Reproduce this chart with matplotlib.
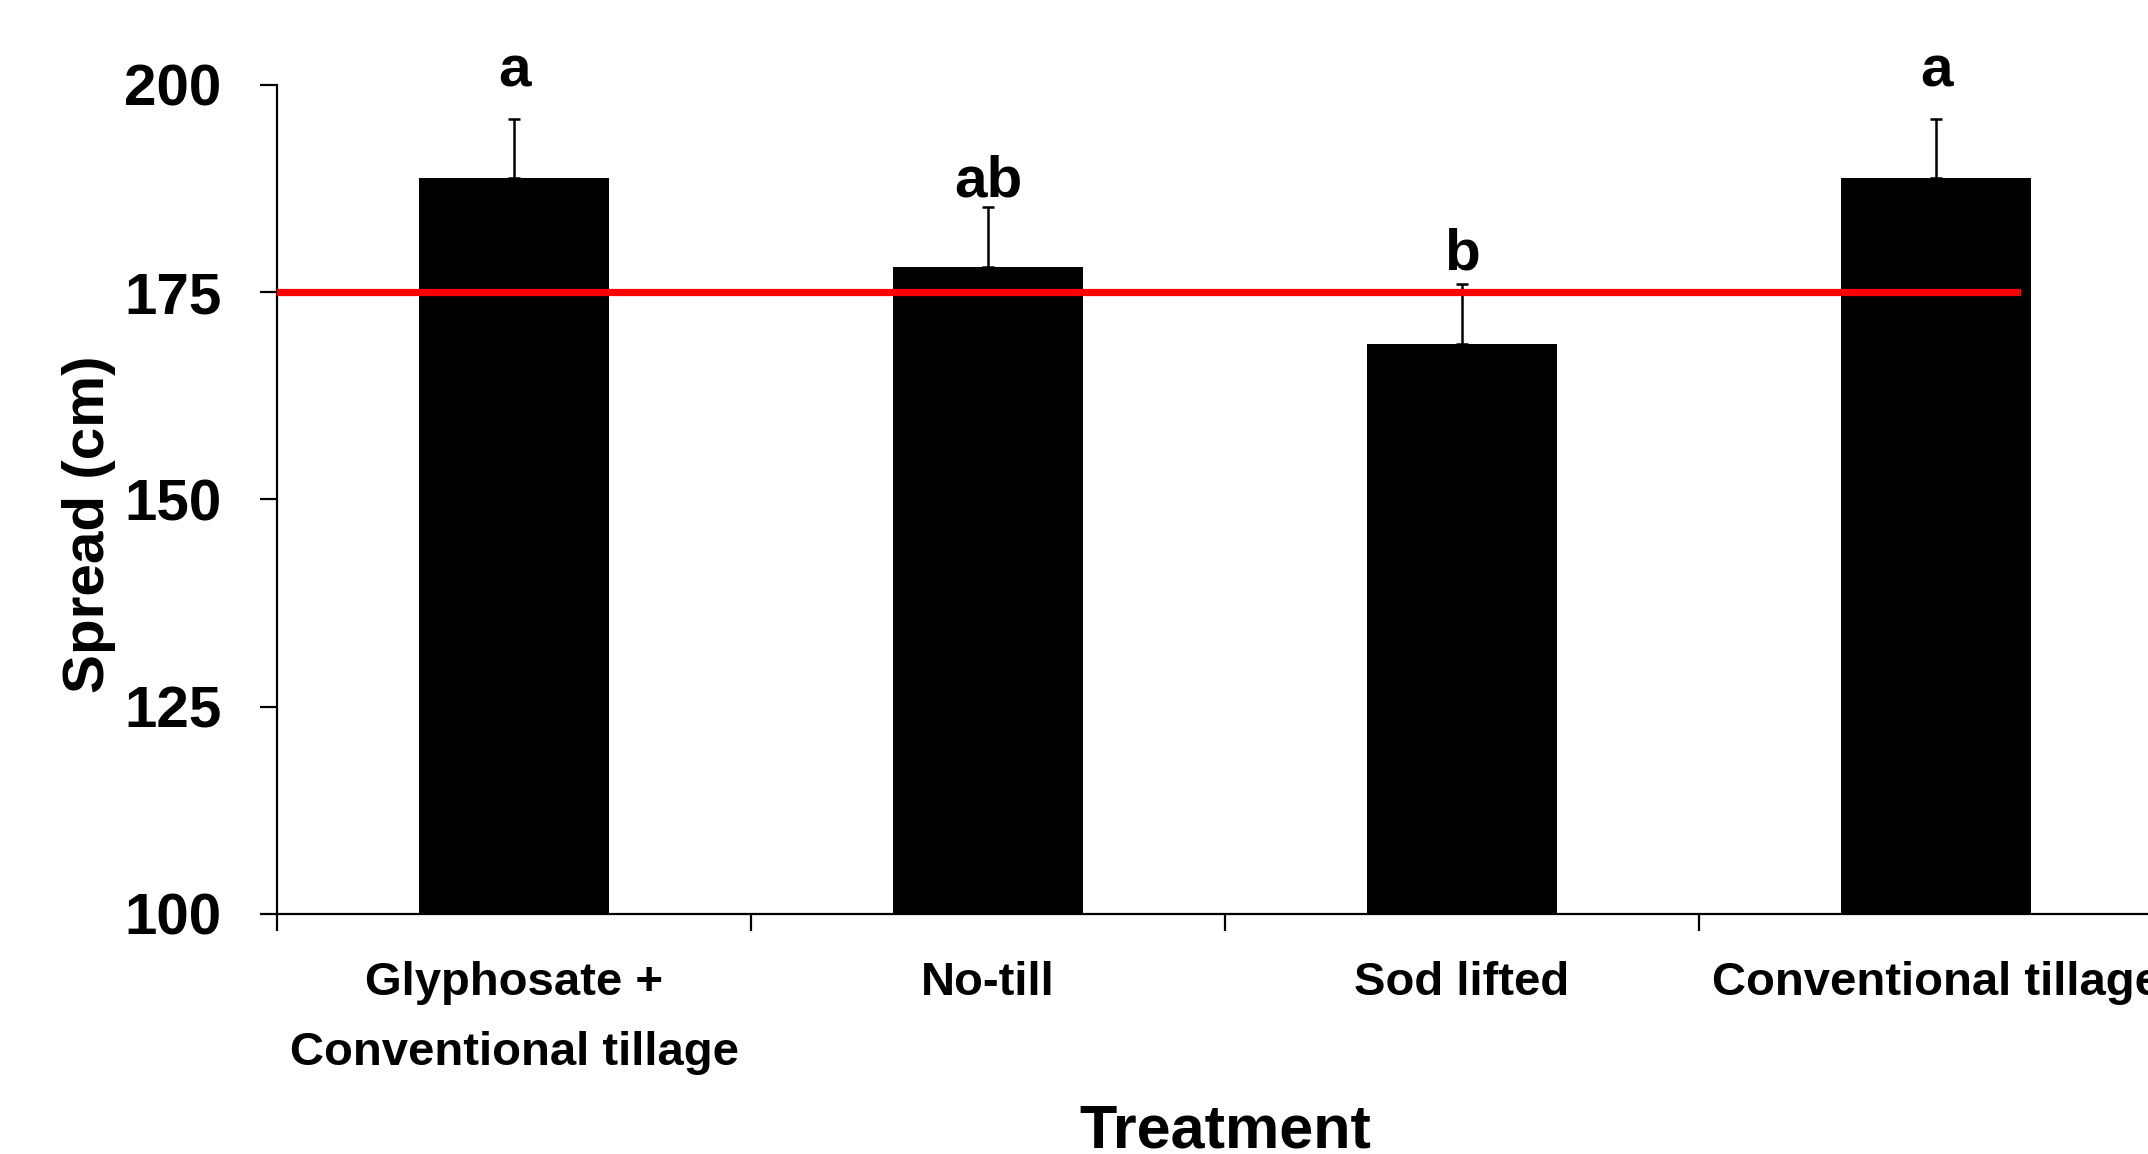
import matplotlib
matplotlib.use("Agg")
import matplotlib.pyplot as plt
import numpy as np

plt.rcParams["font.family"] = ["Liberation Sans", "DejaVu Sans"]
plt.rcParams["font.weight"] = "bold"

# ── Data ────────────────────────────────────────────────────────────────
treatments = ["Glyphosate +\nConventional tillage", "No-till", "Sod lifted", "Conventional tillage"]
spread_cm = [188.8, 178.0, 168.8, 188.8]
spread_se = [7.1, 7.3, 7.2, 7.1]
letters = ["a", "ab", "b", "a"]
letter_y = [199.8, 186.6, 177.7, 199.8]
reference_spread = 175

fig = plt.figure(figsize=(10.74, 5.77), dpi=200)
ax = fig.add_axes([277 / 2148, 1 - 914 / 1154, 1896 / 2148, 829 / 1154])

x = np.arange(len(treatments))
ax.bar(x, spread_cm, width=0.4, color="black", zorder=2)
ax.errorbar(x, spread_cm, yerr=[np.zeros(len(x)), spread_se], fmt="none",
            ecolor="black", elinewidth=0.9, capsize=2.3, capthick=0.9, zorder=3)

# significance letters above the error bars
for xi, ly, lab in zip(x, letter_y, letters):
    ax.text(xi, ly, lab, ha="center", va="baseline", fontsize=21, fontweight="bold")

ax.plot([-0.5, 3.17], [reference_spread, reference_spread], color="#ff0000", lw=2.6, zorder=4)

ax.set_xlim(-0.5, 3.5)
ax.set_ylim(100, 200)
ax.set_yticks([100, 125, 150, 175, 200])
ax.set_xticks([-0.5, 0.5, 1.5, 2.5])
ax.set_xticklabels([])
ax.set_xticks(x, minor=True)
ax.set_xticklabels(treatments, minor=True, fontsize=17, fontweight="bold", linespacing=1.75)
ax.tick_params(axis="x", which="minor", length=0, pad=17)
ax.tick_params(axis="x", which="major", direction="out", length=6, width=0.8)
ax.tick_params(axis="y", direction="out", length=6, width=0.8, labelsize=21, pad=14)
for lab in ax.get_yticklabels():
    lab.set_fontweight("bold")

for side in ["top", "right"]:
    ax.spines[side].set_visible(False)
for side in ["left", "bottom"]:
    ax.spines[side].set_linewidth(0.8)

ax.set_ylabel("Spread (cm)", fontsize=21, fontweight="bold")
ax.yaxis.set_label_coords(-0.085, 0.47)
ax.set_xlabel("Treatment", fontsize=22, fontweight="bold")
ax.xaxis.set_label_coords(0.5, -0.228)

fig.savefig("out.png", dpi=200)
